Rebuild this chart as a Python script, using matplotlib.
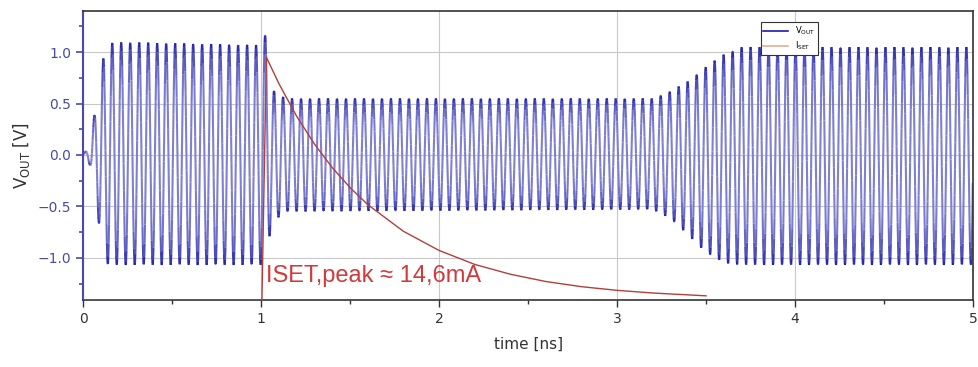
import numpy as np
import matplotlib.pyplot as plt
from matplotlib.collections import LineCollection
from matplotlib.colors import to_rgb
from matplotlib.lines import Line2D
from matplotlib.ticker import MultipleLocator

# V_OUT envelope (time in ns, top / bottom of the oscillation in V)
env_t = [0.0, 0.02, 0.04, 0.067, 0.095, 0.118, 0.14, 0.17, 0.98, 1.0, 1.03, 1.06,
         1.1, 1.15, 3.2, 3.3, 3.4, 3.5, 3.6, 3.7, 5.0]
env_hi = [0.0, 0.05, 0.15, 0.42, 0.7, 0.99, 1.05, 1.1, 1.07, 1.07, 1.2, 0.65,
          0.58, 0.55, 0.55, 0.62, 0.72, 0.86, 0.98, 1.05, 1.05]
env_lo = [0.0, -0.06, -0.1, -0.35, -0.75, -0.95, -1.07, -1.07, -1.07, -1.07, -0.85, -0.75,
          -0.6, -0.55, -0.53, -0.62, -0.78, -0.95, -1.05, -1.07, -1.07]
carrier_ghz = 19.8      # ~9 px per cycle in the picture
sample_ns = 0.002

# I_SET pulse (mA), hidden right axis
iset_t = [0.0, 1.005, 1.03, 1.1, 1.2, 1.3, 1.4, 1.5, 1.6, 1.8, 2.0, 2.2, 2.4,
          2.6, 2.8, 3.0, 3.2, 3.5]
iset_ma = [0.0, 0.0, 14.6, 13.02, 11.05, 9.38, 7.96, 6.76, 5.73, 4.13, 2.98, 2.14,
           1.55, 1.11, 0.80, 0.58, 0.42, 0.25]

t = np.arange(0, 5.0, sample_ns)
hi = np.interp(t, env_t, env_hi)
lo = np.interp(t, env_t, env_lo)
swing = np.sin(2 * np.pi * carrier_ghz * t)
vout = (hi + lo) / 2 + (hi - lo) / 2 * swing

# dark near the peaks, pale across the middle of each stroke
dark = np.array(to_rgb('#1c1ca6'))
light = np.array(to_rgb('#8080d0'))
w = np.abs(swing[:-1] + swing[1:]) / 2
w = np.clip(w, 0, 1) ** 5
seg_cols = light + (dark - light) * w[:, None]
pts = np.column_stack([t, vout]).reshape(-1, 1, 2)
segs = np.concatenate([pts[:-1], pts[1:]], axis=1)

axblue = '#4a4aa8'

fig = plt.figure(figsize=(9.79, 3.67), dpi=100)
ax = fig.add_axes([0.0848, 0.1826, 0.9092, 0.7874])
ax.add_collection(LineCollection(segs, colors=seg_cols, linewidths=1.5))
ax.set_xlim(0, 5)
ax.set_ylim(-1.41, 1.40)
ax.xaxis.set_major_locator(MultipleLocator(1))
ax.xaxis.set_minor_locator(MultipleLocator(0.5))
ax.yaxis.set_major_locator(MultipleLocator(0.5))
ax.yaxis.set_minor_locator(MultipleLocator(0.25))
ax.grid(True, which='major', color='#c8c8c8', lw=0.8)
ax.set_axisbelow(True)

ax.spines['left'].set_color(axblue)
ax.spines['left'].set_linewidth(1.5)
for s in ['bottom', 'top', 'right']:
    ax.spines[s].set_color('#333333')
    ax.spines[s].set_linewidth(1.2)
ax.tick_params(axis='y', which='both', colors=axblue, labelsize=10, width=1.2)
ax.tick_params(axis='y', which='major', length=5)
ax.tick_params(axis='y', which='minor', length=3)
ax.tick_params(axis='x', which='both', colors='#333333', labelsize=10, width=1)
ax.tick_params(axis='x', which='major', length=5)
ax.tick_params(axis='x', which='minor', length=3)

ax.set_xlabel('time [ns]', fontsize=11, color='#333333', labelpad=8)
ax.set_ylabel(r'V$_{\mathrm{OUT}}$ [V]', fontsize=12, color='#333333', labelpad=4)

ax2 = ax.twinx()
ax2.plot(iset_t, iset_ma, color='#b0403c', lw=1.0)
ax2.set_ylim(0, 17.38)
ax2.set_yticks([])
for s in ax2.spines.values():
    s.set_visible(False)

ax.text(1.03, -1.18, 'ISET,peak \u2248 14,6mA', color='#d03a3a', fontsize=17,
        family=['Liberation Sans', 'DejaVu Sans'], va='center', ha='left')

handles = [Line2D([], [], color='#1c1ca6', lw=1.2),
           Line2D([], [], color='#e0b090', lw=1.2)]
labels = [r'V$_{\mathrm{OUT}}$', r'I$_{\mathrm{SET}}$']
leg = ax2.legend(handles, labels, loc='upper left', bbox_to_anchor=(0.757, 0.975),
                 fontsize=6, frameon=True, fancybox=False, edgecolor='#333333',
                 handlelength=3, borderpad=0.3, labelspacing=0.3, framealpha=1)
leg.get_frame().set_linewidth(0.8)

fig.savefig('out.png', dpi=100)
